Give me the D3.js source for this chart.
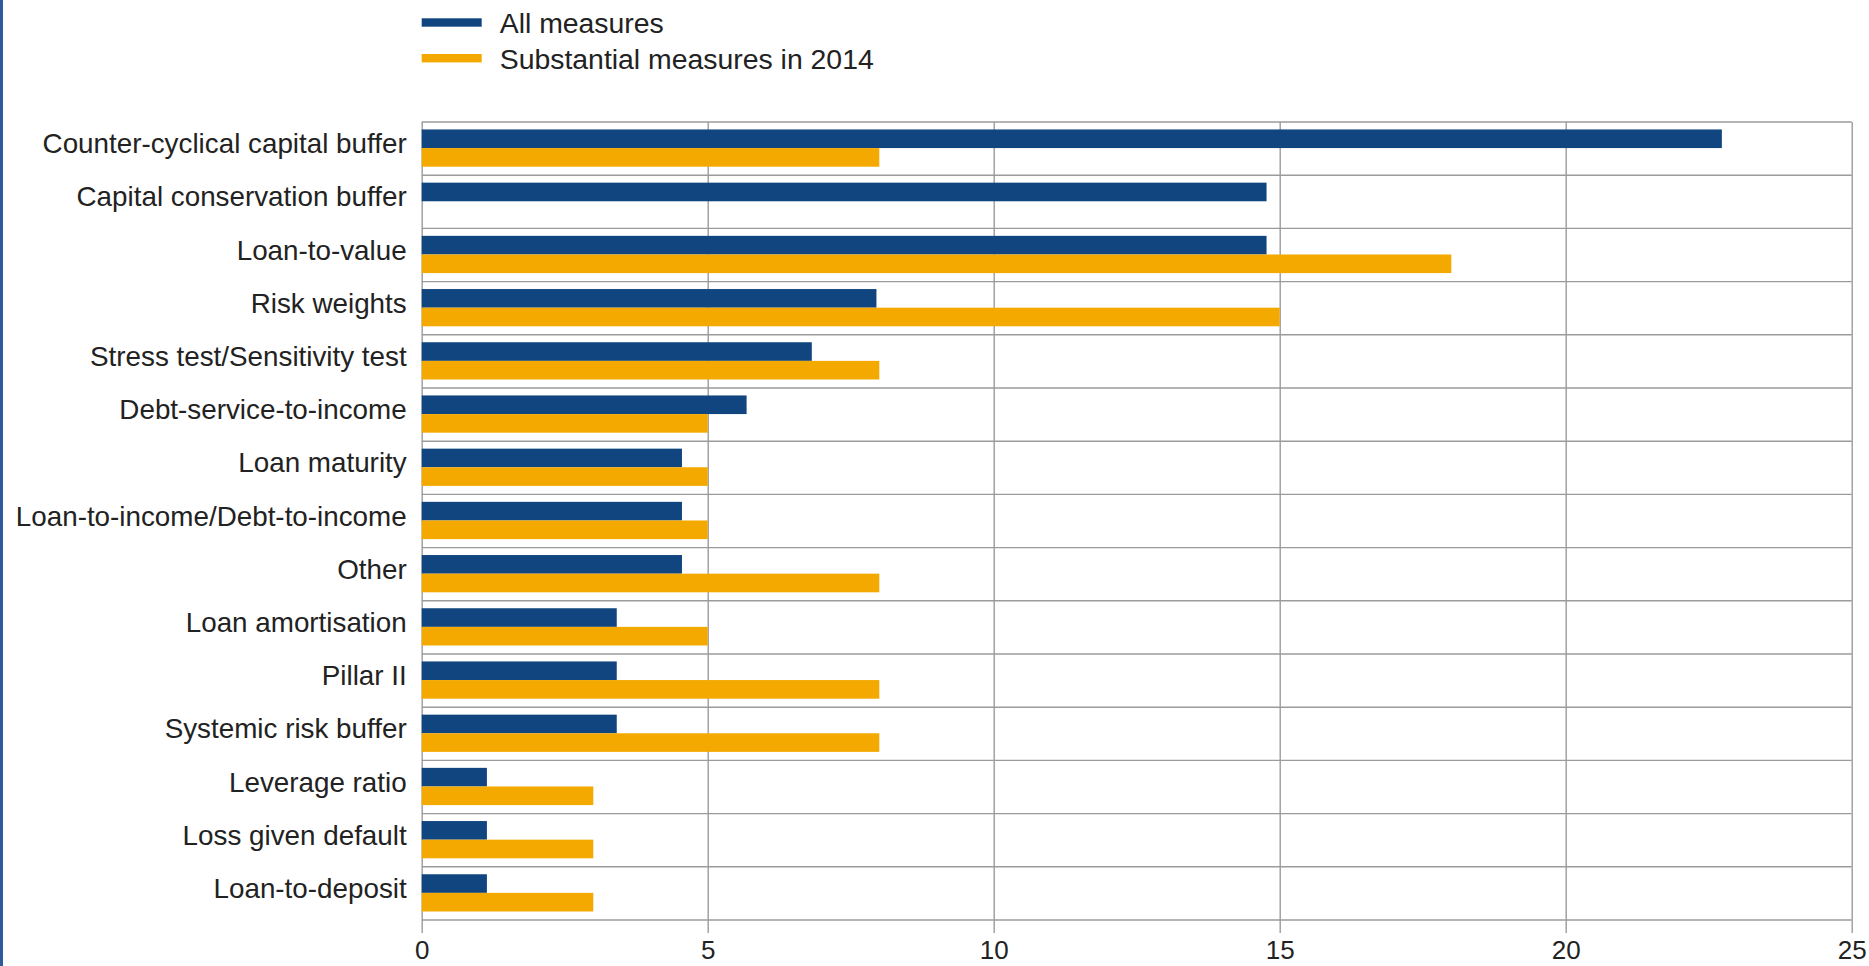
<!DOCTYPE html>
<html>
<head>
<meta charset="utf-8">
<script src="https://cdnjs.cloudflare.com/ajax/libs/d3/7.8.5/d3.min.js"></script>
<style>
  body { margin: 0; background: #fff; }
  svg { display: block; }
</style>
</head>
<body>
<div class="chart"></div>
<script>
var categories = [
  "Counter-cyclical capital buffer",
  "Capital conservation buffer",
  "Loan-to-value",
  "Risk weights",
  "Stress test/Sensitivity test",
  "Debt-service-to-income",
  "Loan maturity",
  "Loan-to-income/Debt-to-income",
  "Other",
  "Loan amortisation",
  "Pillar II",
  "Systemic risk buffer",
  "Leverage ratio",
  "Loss given default",
  "Loan-to-deposit"
];
var allMeasures = [22.73, 14.77, 14.77, 7.95, 6.82, 5.68, 4.55, 4.55, 4.55, 3.41, 3.41, 3.41, 1.14, 1.14, 1.14];
var substantial2014 = [8, 0, 18, 15, 8, 5, 5, 5, 8, 5, 8, 8, 3, 3, 3];
var seriesNames = ["All measures", "Substantial measures in 2014"];
var seriesColors = ["#10457f", "#f4a900"];
var xTicks = [0, 5, 10, 15, 20, 25];

var width = 1869, height = 966;
var plotLeft = 421.7, plotRight = 1851.7, plotTop = 122, plotBottom = 920;
var font = "Arial, 'Liberation Sans', sans-serif";

var svg = d3.select("div.chart")
  .append("svg")
  .attr("width", width)
  .attr("height", height);

svg.append("rect").attr("width", width).attr("height", height).attr("fill", "#fff");
// blue frame edge on the left
svg.append("rect").attr("x", 0).attr("y", 0).attr("width", 3).attr("height", height).attr("fill", "#2d5b9c");

var x = d3.scaleLinear().domain([0, 25]).range([plotLeft, plotRight]);
var y = d3.scaleBand().domain(categories).range([plotTop, plotBottom]);
var sub = d3.scaleBand().domain(seriesNames)
  .range([y.bandwidth() * 0.14, y.bandwidth() * 0.84]);

var rows = categories.map(function(c, i) {
  return {cat: c, values: [allMeasures[i], substantial2014[i]]};
});

// horizontal grid at band edges
var grid = svg.append("g").attr("stroke", "#9b9b9b").attr("stroke-width", 1.4);
grid.selectAll("line")
  .data(d3.range(categories.length + 1))
  .enter().append("line")
  .attr("x1", plotLeft).attr("x2", plotRight)
  .attr("y1", function(i) { return plotTop + i * y.step(); })
  .attr("y2", function(i) { return plotTop + i * y.step(); });

var xAxis = svg.append("g")
  .attr("transform", "translate(0," + plotTop + ")")
  .call(d3.axisBottom(x).tickValues(xTicks).tickSize(plotBottom - plotTop + 13).tickPadding(8));
xAxis.select(".domain").remove();
xAxis.selectAll(".tick line").attr("stroke", "#9b9b9b").attr("stroke-width", 1.4);
xAxis.selectAll(".tick text")
  .attr("fill", "#222")
  .style("font-family", font)
  .style("font-size", "26px");

// bars
var group = svg.append("g")
  .selectAll("g")
  .data(rows)
  .enter().append("g")
  .attr("transform", function(d) { return "translate(0," + y(d.cat) + ")"; });

group.selectAll("rect")
  .data(function(d) { return d.values.map(function(v, j) { return {s: seriesNames[j], v: v, j: j}; }); })
  .enter().append("rect")
  .attr("x", x(0))
  .attr("y", function(d) { return sub(d.s); })
  .attr("width", function(d) { return x(d.v) - x(0); })
  .attr("height", sub.bandwidth())
  .attr("fill", function(d) { return seriesColors[d.j]; });

// category labels
svg.append("g")
  .selectAll("text")
  .data(categories)
  .enter().append("text")
  .attr("x", plotLeft - 15)
  .attr("y", function(d) { return y(d) + y.bandwidth() / 2 + 4.5; })
  .attr("text-anchor", "end")
  .attr("fill", "#222")
  .style("font-family", font)
  .style("font-size", "27.8px")
  .text(function(d) { return d; });

// legend
var legend = svg.append("g")
  .selectAll("g")
  .data(seriesNames)
  .enter().append("g")
  .attr("transform", function(d, i) { return "translate(" + plotLeft + "," + (22.5 + i * 35.7) + ")"; });
legend.append("rect")
  .attr("x", 0).attr("y", -4.2)
  .attr("width", 60).attr("height", 8.4)
  .attr("fill", function(d, i) { return seriesColors[i]; });
legend.append("text")
  .attr("x", 78).attr("y", 10.5)
  .attr("fill", "#222")
  .style("font-family", font)
  .style("font-size", "28.4px")
  .text(function(d) { return d; });
</script>
</body>
</html>
